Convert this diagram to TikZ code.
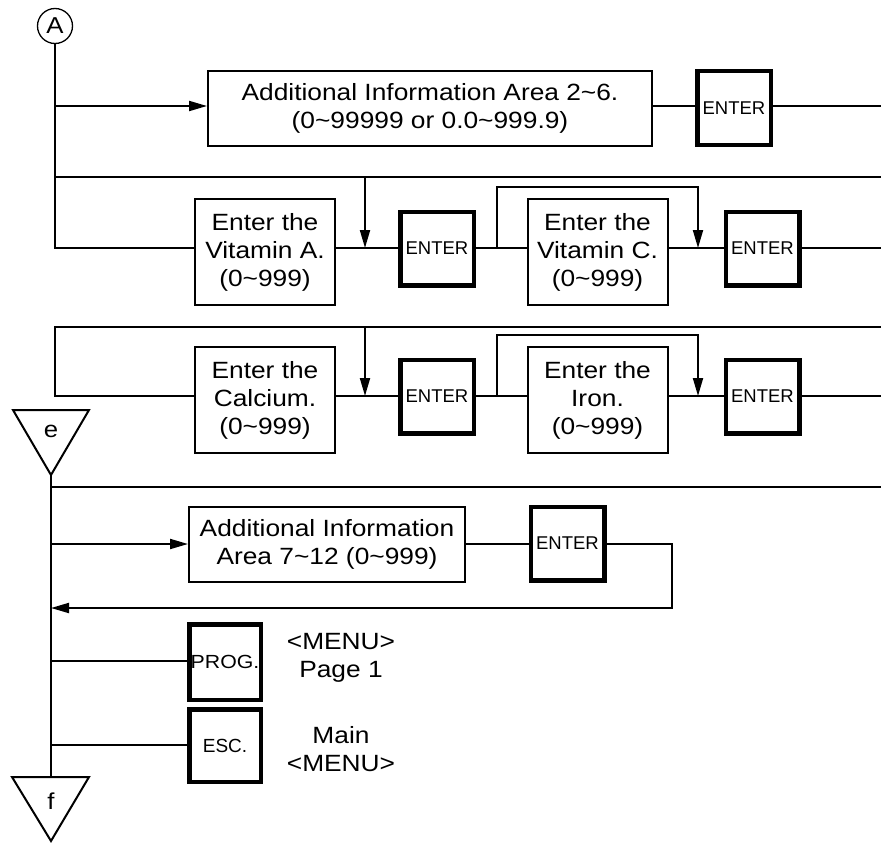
\documentclass[tikz,border=0pt]{standalone}
\usepackage{fontspec}
\setmainfont{Liberation Sans}[FakeStretch=1.12]
\newfontfamily\keyfont{Liberation Sans}
\usetikzlibrary{arrows.meta}
\newcommand\tld{\textasciitilde}
\begin{document}
\begin{tikzpicture}[x=1pt,y=-1pt,
  ln/.style={line width=2pt},
  arr/.style={-{Triangle[length=18pt,width=10pt]}},
  txt/.style={align=center,font=\fontsize{23.5}{28}\selectfont},
  infobox/.style={draw,line width=2pt,align=center,inner sep=0pt,font=\fontsize{23.5}{28}\selectfont},
  smallbox/.style={infobox,minimum width=140pt,minimum height=106pt},
  keybox/.style={draw,line width=4.5pt,inner sep=0pt,minimum width=73.5pt,minimum height=73.5pt,font=\keyfont\fontsize{18.5}{20}\selectfont}]
\useasboundingbox (0,0) rectangle (881,843);

% connector A
\node[circle,draw,line width=1.3pt,minimum size=35pt,inner sep=0pt,font=\fontsize{23}{24}\selectfont] (A) at (55,26) {A};

% row 1
\node[infobox,minimum width=444pt,minimum height=75pt] (ai) at (430,108.5) {Additional Information Area 2\tld6.\\(0\tld99999 or 0.0\tld999.9)};
\node[keybox] (k1) at (734,108) {ENTER};
\coordinate (r1) at (55,106);
\coordinate (r1e) at (881,106);
\draw[ln,arr] (r1) -- (ai.west |- r1);
\draw[ln] (ai.east |- r1) -- (k1.west |- r1);
\draw[ln] (k1.east |- r1) -- (r1e);

% separator 1
\coordinate (s1) at (55,177);
\coordinate (s1e) at (881,177);
\draw[ln] (s1) -- (s1e);

% row 2
\node[smallbox] (vA) at (265,252) {Enter the\\Vitamin A.\\(0\tld999)};
\node[keybox] (k2) at (437,248.5) {ENTER};
\node[smallbox] (vC) at (597.5,252) {Enter the\\Vitamin C.\\(0\tld999)};
\node[keybox] (k3) at (762.5,248.5) {ENTER};
\coordinate (t2) at (55,248);
\coordinate (t2e) at (881,248);
\coordinate (d2a) at (365,177);
\coordinate (d2b) at (365,248);
\coordinate (b2a) at (497,248);
\coordinate (b2b) at (698,248);
\draw[ln] (A.south) -- (t2) -- (vA.west |- t2);
\draw[ln] (vA.east |- t2) -- (k2.west |- t2);
\draw[ln,arr] (d2a) -- (d2b);
\draw[ln] (k2.east |- t2) -- (vC.west |- t2);
\draw[ln,arr] (b2a) -- (497,187) -- (698,187) -- (b2b);
\draw[ln] (vC.east |- t2) -- (k3.west |- t2);
\draw[ln] (k3.east |- t2) -- (t2e);

% row 3
\node[smallbox] (ca) at (265,400) {Enter the\\Calcium.\\(0\tld999)};
\node[keybox] (k4) at (437,396.5) {ENTER};
\node[smallbox] (fe) at (597.5,400) {Enter the\\Iron.\\(0\tld999)};
\node[keybox] (k5) at (762.5,396.5) {ENTER};
\coordinate (t3) at (55,396);
\coordinate (t3e) at (881,396);
\coordinate (s2e) at (881,327);
\coordinate (d3a) at (365,327);
\coordinate (d3b) at (365,396);
\coordinate (b3a) at (497,396);
\coordinate (b3b) at (698,396);
\draw[ln] (s2e) -- (55,327) -- (t3) -- (ca.west |- t3);
\draw[ln] (ca.east |- t3) -- (k4.west |- t3);
\draw[ln,arr] (d3a) -- (d3b);
\draw[ln] (k4.east |- t3) -- (fe.west |- t3);
\draw[ln,arr] (b3a) -- (497,335) -- (698,335) -- (b3b);
\draw[ln] (fe.east |- t3) -- (k5.west |- t3);
\draw[ln] (k5.east |- t3) -- (t3e);

% connector e
\draw[ln] (13,410) -- (89,410) -- (51,475) -- cycle;
\node[font=\fontsize{23}{24}\selectfont] (e) at (51,431) {e};
\coordinate (etip) at (51,475);
\coordinate (ftop) at (51,777);
\draw[ln] (etip) -- (ftop);

% separator 3
\coordinate (s3) at (51,487);
\coordinate (s3e) at (881,487);
\draw[ln] (s3) -- (s3e);

% row 5
\node[infobox,minimum width=276pt,minimum height=75pt] (a7) at (327,544.5) {Additional Information\\Area 7\tld12 (0\tld999)};
\node[keybox] (k6) at (567.5,543.5) {ENTER};
\coordinate (r5) at (51,544);
\coordinate (ret) at (51,608);
\draw[ln,arr] (r5) -- (a7.west |- r5);
\draw[ln] (a7.east |- r5) -- (k6.west |- r5);
\draw[ln,arr] (k6.east |- r5) -- (672,544) -- (672,608) -- (ret);

% PROG / ESC
\node[keybox,minimum width=71.5pt,minimum height=75.5pt,font=\fontsize{19}{20}\selectfont] (pg) at (225,662) {PROG.};
\node[keybox,minimum width=71.5pt,minimum height=72.5pt,font=\keyfont\fontsize{19}{20}\selectfont] (es) at (225,745.5) {ESC.};
\coordinate (r6) at (51,661);
\coordinate (r7) at (51,745);
\draw[ln] (r6) -- (pg.west |- r6);
\draw[ln] (r7) -- (es.west |- r7);
\node[txt] (m1) at (341,658) {<MENU>\\Page 1};
\node[txt] (m2) at (341,749) {Main\\<MENU>};

% connector f
\draw[ln] (12,777) -- (89,777) -- (51,841) -- cycle;
\node[font=\fontsize{23}{24}\selectfont] (f) at (51,801) {f};
\end{tikzpicture}
\end{document}
